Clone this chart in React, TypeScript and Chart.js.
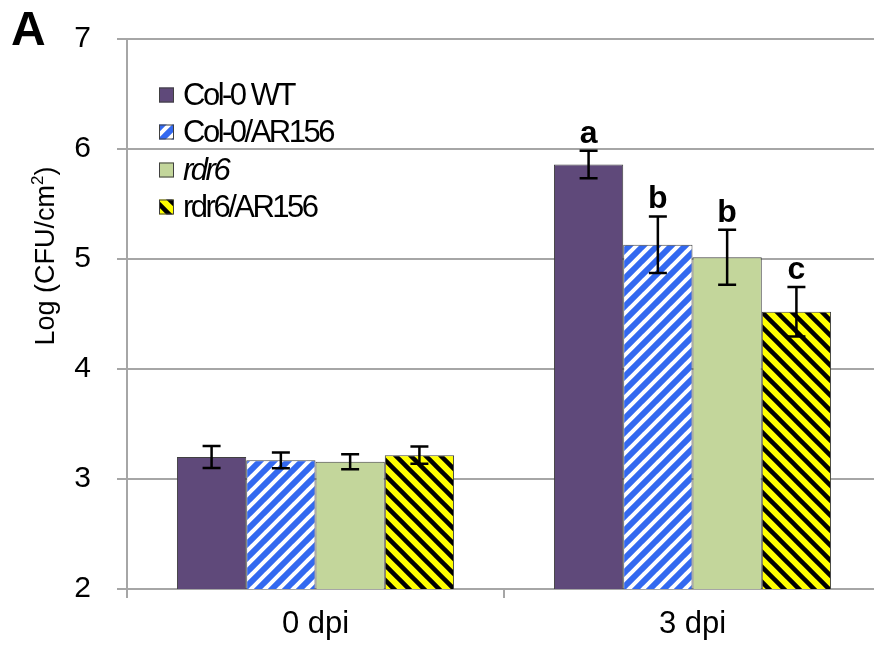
import React, { useEffect, useRef } from "react";
import { Chart, registerables } from "chart.js";

Chart.register(...registerables);

const categories = ["0 dpi", "3 dpi"];
const seriesNames = ["Col-0 WT", "Col-0/AR156", "rdr6", "rdr6/AR156"];
const colWT = [3.2, 5.86];
const colWTErr = [0.1, 0.125];
const colAR = [3.17, 5.13];
const colARErr = [0.072, 0.257];
const rdr6 = [3.157, 5.015];
const rdr6Err = [0.068, 0.25];
const rdrAR = [3.217, 4.52];
const rdrARErr = [0.078, 0.225];
const letters3dpi = ["a", "b", "b", "c"];
const yTicks = [2, 3, 4, 5, 6, 7];

const FONT = "'Liberation Sans', Arial, sans-serif";
const GRID = "#a6a6a6";

function stripePattern(bg: string, fg: string, dir: "up" | "down", size: number, lw: number) {
  const c = document.createElement("canvas");
  c.width = size;
  c.height = size;
  const ctx = c.getContext("2d")!;
  ctx.fillStyle = bg;
  ctx.fillRect(0, 0, size, size);
  ctx.strokeStyle = fg;
  ctx.lineWidth = lw;
  ctx.lineCap = "square";
  for (let k = -1; k <= 1; k++) {
    ctx.beginPath();
    if (dir === "up") {
      ctx.moveTo(k * size, size);
      ctx.lineTo(k * size + size, 0);
    } else {
      ctx.moveTo(k * size, 0);
      ctx.lineTo(k * size + size, size);
    }
    ctx.stroke();
  }
  const main = document.createElement("canvas").getContext("2d")!;
  return main.createPattern(c, "repeat")!;
}

export default function App() {
  const ref = useRef<HTMLCanvasElement>(null);

  useEffect(() => {
    const canvas = ref.current!;
    const blue = stripePattern("#3369f0", "#ffffff", "up", 14, 4);
    const yellow = stripePattern("#ffff00", "#000000", "down", 15, 4.5);
    const fills: any[] = ["#5f497a", blue, "#c3d69b", yellow];
    const values = [colWT, colAR, rdr6, rdrAR];
    const errs = [colWTErr, colARErr, rdr6Err, rdrARErr];

    const overlay = {
      id: "overlay",
      afterDatasetsDraw(chart: any) {
        const ctx = chart.ctx;
        const ys = chart.scales.y;
        ctx.save();
        ctx.strokeStyle = "#000";
        ctx.lineWidth = 2.5;
        values.forEach((vals, i) => {
          const meta = chart.getDatasetMeta(i);
          vals.forEach((v, j) => {
            const x = meta.data[j].x;
            const top = ys.getPixelForValue(v + errs[i][j]);
            const bot = ys.getPixelForValue(v - errs[i][j]);
            ctx.beginPath();
            ctx.moveTo(x, top);
            ctx.lineTo(x, bot);
            ctx.moveTo(x - 9, top);
            ctx.lineTo(x + 9, top);
            ctx.moveTo(x - 9, bot);
            ctx.lineTo(x + 9, bot);
            ctx.stroke();
            if (j === 1 && letters3dpi[i]) {
              ctx.fillStyle = "#000";
              ctx.font = `bold 32px ${FONT}`;
              ctx.textAlign = "center";
              ctx.textBaseline = "alphabetic";
              ctx.fillText(letters3dpi[i], x, top - 8);
            }
          });
        });
        ctx.restore();
      },
      afterDraw(chart: any) {
        const ctx = chart.ctx;
        ctx.save();
        // panel letter
        ctx.fillStyle = "#000";
        ctx.font = `bold 48px ${FONT}`;
        ctx.textAlign = "left";
        ctx.textBaseline = "alphabetic";
        ctx.fillText("A", 11, 45);
        // axis title
        ctx.save();
        ctx.translate(47, 256);
        ctx.rotate(-Math.PI / 2);
        ctx.font = `27px ${FONT}`;
        ctx.textBaseline = "middle";
        const main = "Log (CFU/cm";
        const w1 = ctx.measureText(main).width;
        ctx.font = `17px ${FONT}`;
        const w2 = ctx.measureText("2").width;
        ctx.font = `27px ${FONT}`;
        const w3 = ctx.measureText(")").width;
        const x0 = -(w1 + w2 + w3) / 2;
        ctx.textAlign = "left";
        ctx.fillText(main, x0, 0);
        ctx.font = `17px ${FONT}`;
        ctx.fillText("2", x0 + w1, -9);
        ctx.font = `27px ${FONT}`;
        ctx.fillText(")", x0 + w1 + w2, 0);
        ctx.restore();
        // legend
        const rows = [95, 132, 170, 207];
        seriesNames.forEach((name, i) => {
          const cy = rows[i];
          ctx.fillStyle = fills[i];
          ctx.fillRect(159, cy - 7.5, 15, 15);
          ctx.strokeStyle = "#404040";
          ctx.lineWidth = 1;
          ctx.strokeRect(159.5, cy - 7, 14, 14);
          ctx.fillStyle = "#000";
          ctx.font = `${i === 2 ? "italic " : ""}31px ${FONT}`;
          (ctx as any).letterSpacing = "-2.5px";
          ctx.textAlign = "left";
          ctx.textBaseline = "middle";
          ctx.fillText(name, 183, cy + 1);
          (ctx as any).letterSpacing = "0px";
        });
        ctx.restore();
      },
    };

    const chart = new Chart(canvas, {
      type: "bar",
      data: {
        labels: categories,
        datasets: seriesNames.map((n, i) => ({
          label: n,
          data: values[i],
          backgroundColor: fills[i],
          borderColor: "#404040",
          borderWidth: 1,
        })),
      },
      options: {
        responsive: false,
        animation: false,
        layout: { padding: { top: 39, left: 0, right: 0, bottom: 0 } },
        datasets: { bar: { categoryPercentage: 0.735, barPercentage: 1 } },
        plugins: { legend: { display: false }, tooltip: { enabled: false } },
        scales: {
          x: {
            grid: {
              offset: true,
              drawOnChartArea: false,
              drawTicks: true,
              tickLength: 9,
              color: GRID,
              lineWidth: 2,
            },
            border: { display: true, color: GRID, width: 2 },
            ticks: {
              color: "#000",
              font: { family: FONT, size: 31 },
              padding: 8,
            },
            afterFit(s: any) {
              s.height = 646 - 589;
              s.paddingLeft = 0;
              s.paddingRight = 0;
            },
          },
          y: {
            min: 2,
            max: 7,
            afterBuildTicks(s: any) {
              s.ticks = yTicks.map((v) => ({ value: v }));
            },
            grid: {
              color: GRID,
              lineWidth: 2,
              drawTicks: true,
              tickLength: 10,
            },
            border: { display: true, color: GRID, width: 2 },
            ticks: {
              color: "#000",
              font: { family: FONT, size: 30 },
              padding: 26,
            },
            afterFit(s: any) {
              s.width = 127;
              s.paddingTop = 0;
              s.paddingBottom = 0;
            },
          },
        },
      },
      plugins: [overlay],
    });
    return () => chart.destroy();
  }, []);

  return (
    <div style={{ position: "absolute", left: 0, top: 0, width: 874, height: 646, overflow: "hidden", background: "#fff" }}>
      <canvas ref={ref} width={881} height={646} style={{ width: 881, height: 646, display: "block" }} />
    </div>
  );
}
